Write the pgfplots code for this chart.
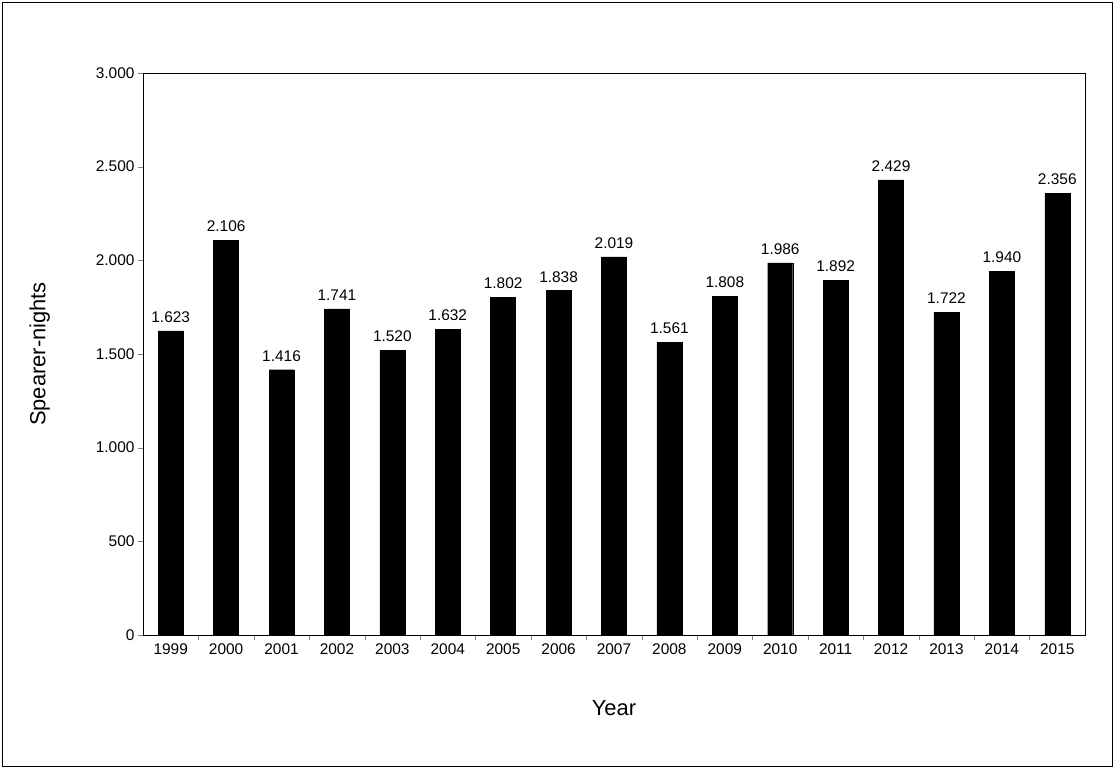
\documentclass[border=0pt]{standalone}
\usepackage{pgfplots}
\pgfplotsset{compat=1.18}
\usepackage{fontspec}
\setmainfont{Liberation Sans}
\begin{document}
\begin{tikzpicture}
\path (-143bp,-135bp) rectangle (975bp,635bp);
\draw[line width=0.8bp] (-141bp,-131bp) rectangle (969bp,633bp);
\begin{axis}[
  at={(0,0)}, anchor=south west,
  scale only axis, width=942bp, height=562bp,
  xmin=-0.5, xmax=16.5, ymin=0, ymax=3000,
  xtick={0,...,16},
  xticklabels={1999,2000,2001,2002,2003,2004,2005,2006,2007,2008,2009,2010,2011,2012,2013,2014,2015},
  minor xtick={0.5,1.5,...,15.5},
  major x tick style={draw=none},
  minor tick length=5bp,
  ytick={0,500,...,3000},
  major tick length=5bp,
  tick align=outside, xtick pos=bottom, ytick pos=left,
  yticklabel style={/pgf/number format/.cd,1000 sep={.},assume math mode=true},
  ticklabel style={font=\fontsize{15.5}{18}\selectfont},
  ylabel={Spearer-nights}, xlabel={Year},
  label style={font=\fontsize{22}{26}\selectfont},
  ylabel style={at={(axis description cs:-0.095,0.5)}},
  xlabel style={at={(axis description cs:0.5,-0.11)}},
  axis line style={line width=0.8bp},
  ybar, bar width=25bp,
  nodes near coords,
  nodes near coords style={font=\fontsize{15.5}{18}\selectfont,yshift=5bp,/pgf/number format/.cd,1000 sep={.},fixed,assume math mode=true},
]
\addplot[fill=black, draw=black] coordinates {
(0,1623)(1,2106)(2,1416)(3,1741)(4,1520)(5,1632)(6,1802)(7,1838)(8,2019)(9,1561)(10,1808)(11,1986)(12,1892)(13,2429)(14,1722)(15,1940)(16,2356)};
\end{axis}
\end{tikzpicture}
\end{document}
